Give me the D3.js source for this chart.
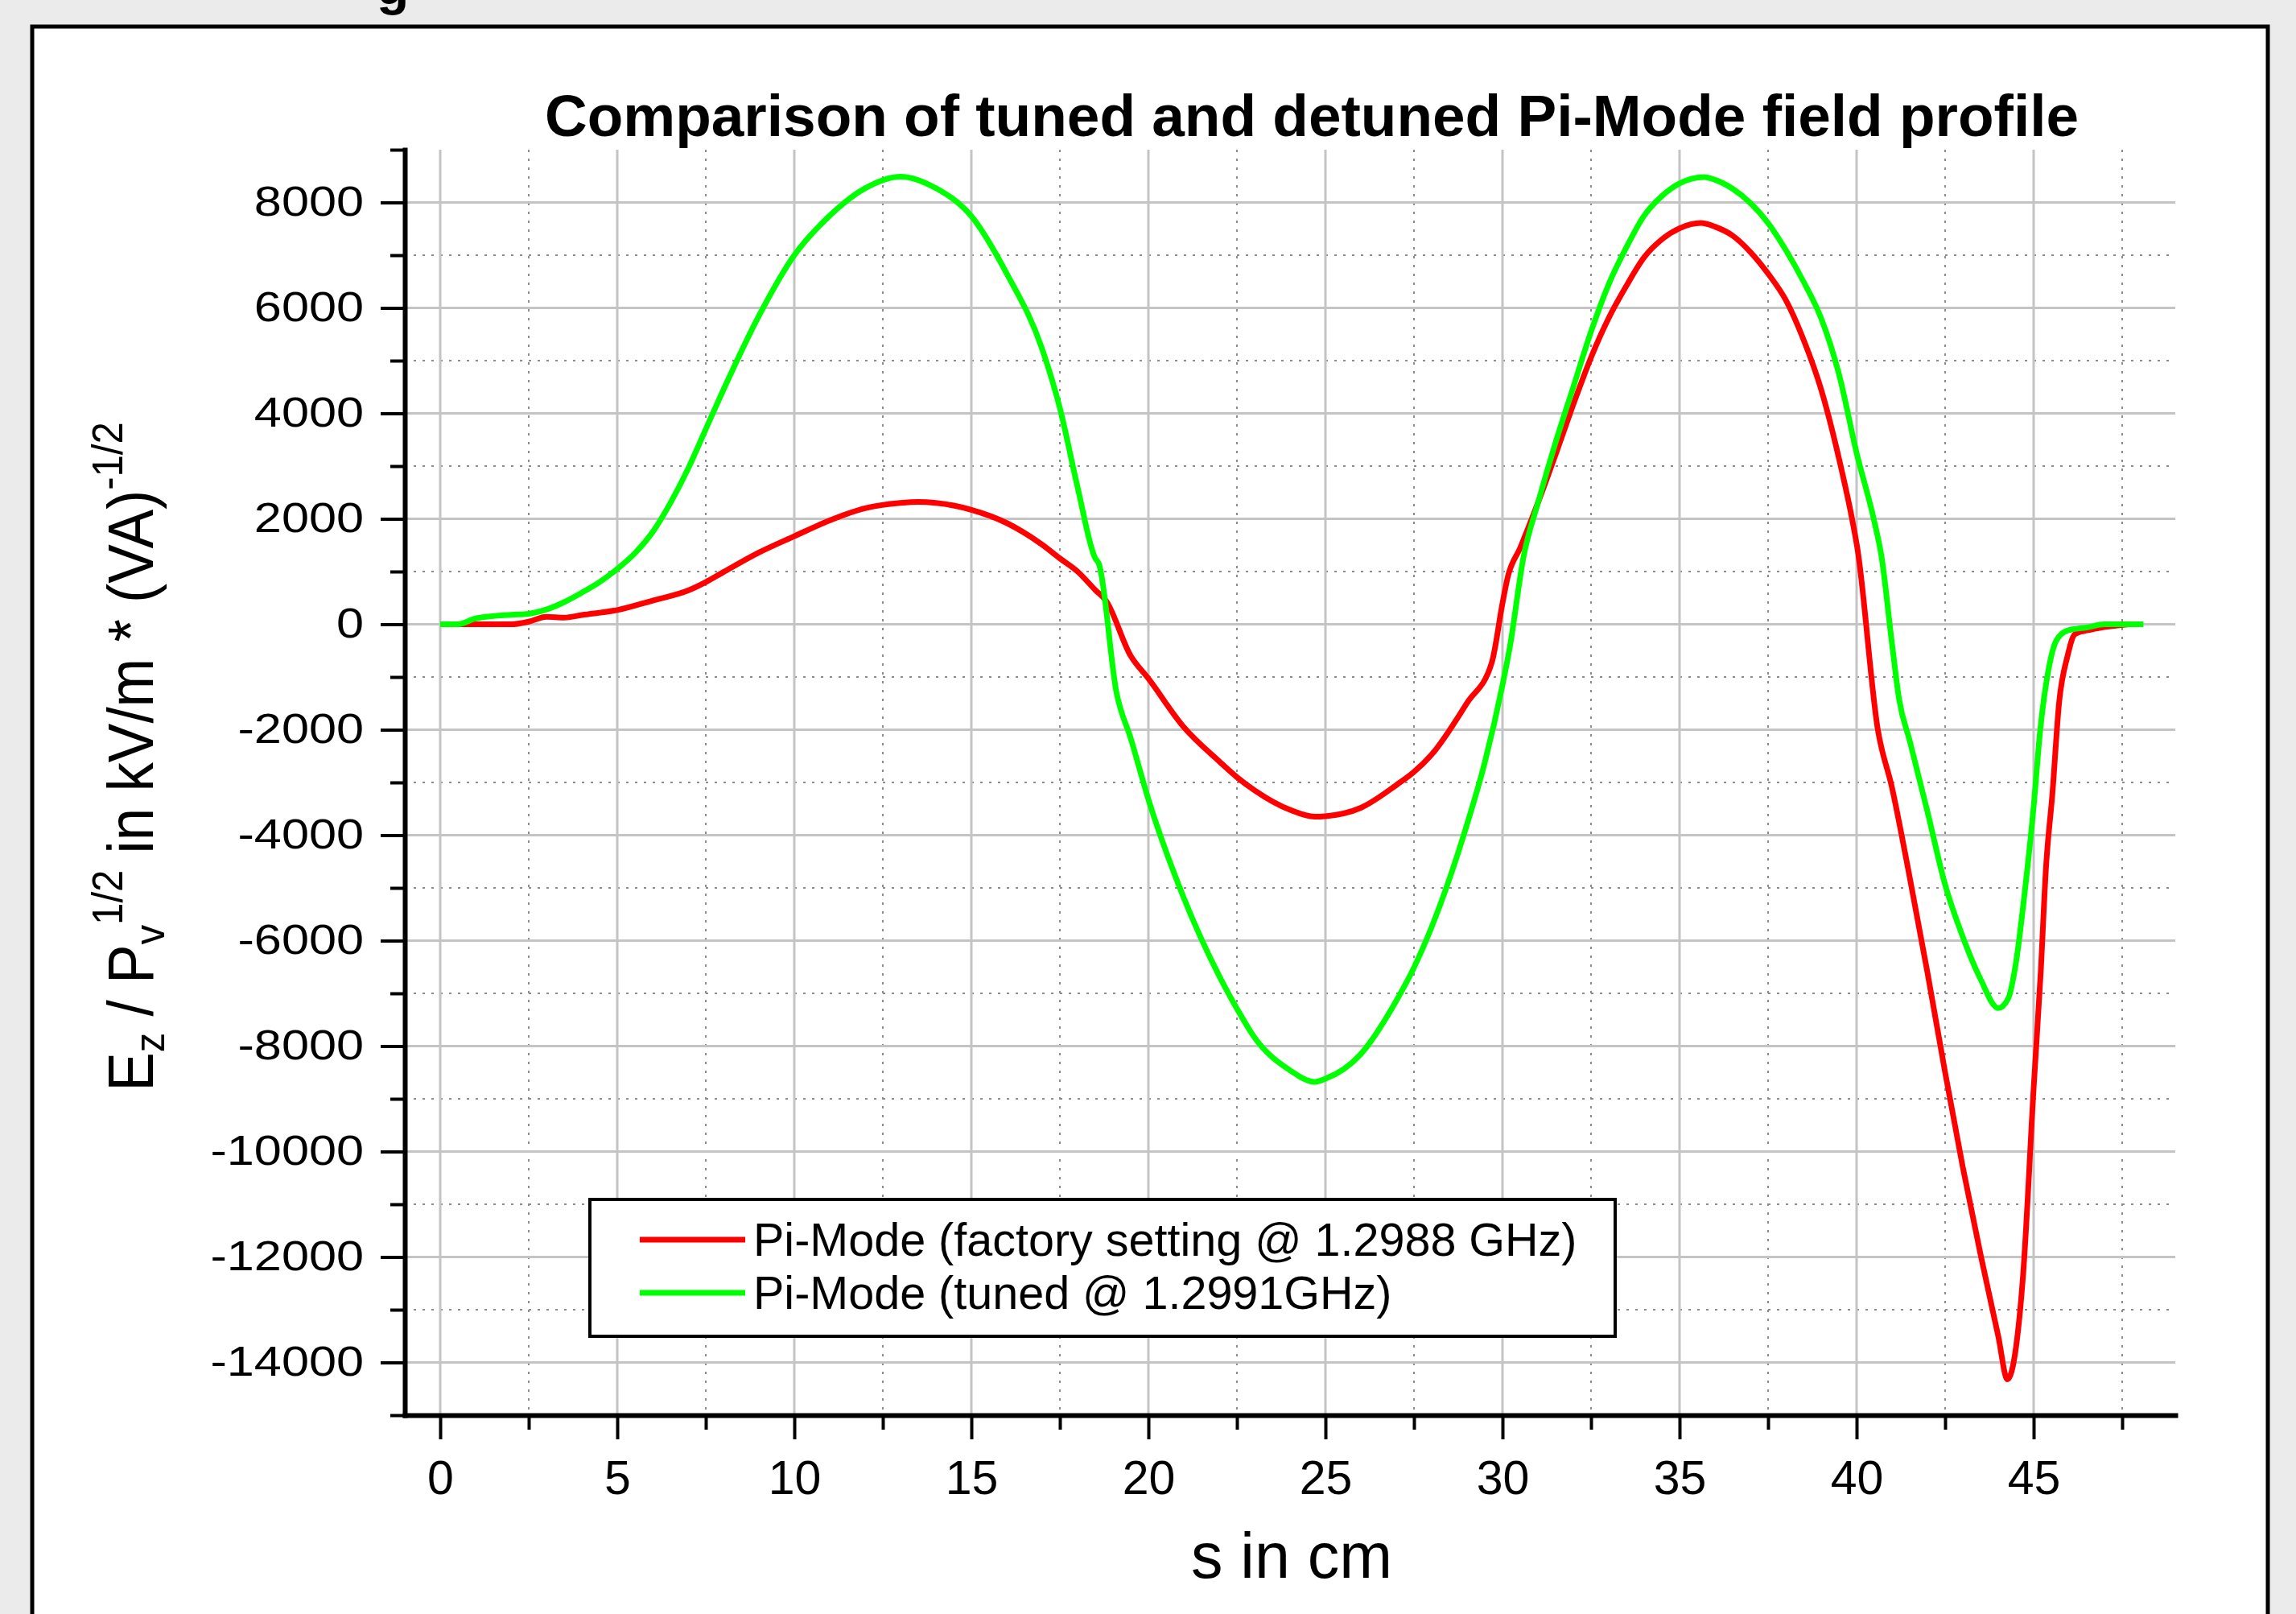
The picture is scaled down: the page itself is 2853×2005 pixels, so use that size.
<!DOCTYPE html>
<html>
<head>
<meta charset="utf-8">
<script src="https://cdn.jsdelivr.net/npm/d3@7"></script>
<style>
  body { margin: 0; background: #ebebeb; }
  svg { display: block; }
</style>
</head>
<body>
<svg id="chart"></svg>
<script>
// Chart size
const width = 2853;
const height = 2005;

// Plot area (pixels)
const plot = { left: 503, right: 2703, top: 186, bottom: 1758 };

// Tick values
const xMajor = [0, 5, 10, 15, 20, 25, 30, 35, 40, 45];
const xMinor = [2.5, 7.5, 12.5, 17.5, 22.5, 27.5, 32.5, 37.5, 42.5, 47.5];
const yMajor = [-14000, -12000, -10000, -8000, -6000, -4000, -2000, 0, 2000, 4000, 6000, 8000];
const yMinor = [-15000, -13000, -11000, -9000, -7000, -5000, -3000, -1000, 1000, 3000, 5000, 7000, 9000];

// Pi-Mode (factory setting @ 1.2988 GHz)
const factoryS = [0, 1, 2, 2.5, 3, 3.5, 4, 5, 6, 7, 7.5, 8, 9, 10, 11, 12, 13, 13.5, 14, 15, 16, 17, 17.5, 18, 18.5, 18.8,
  19.5, 20, 21, 22, 22.5, 23, 24, 24.7, 25, 26, 27, 27.5, 28, 29, 29.7, 30, 30.15, 30.5, 31, 31.5, 32, 32.5, 33, 33.5,
  34, 34.5, 35, 35.6, 36, 36.5, 37, 37.5, 38, 38.5, 39, 39.5, 39.9, 40.02, 40.6, 41, 41.5, 42, 42.5, 43, 43.5, 44,
  44.26, 44.5, 44.7, 45, 45.2, 45.35, 45.53, 45.72, 45.95, 46.17, 46.63, 47.7];
const factoryE = [0, 0, 0, 50, 140, 125, 175, 270, 450, 640, 800, 990, 1360, 1670, 1970, 2200, 2300, 2320, 2300, 2170, 1920, 1510, 1250, 1000, 650, 450,
  -600, -1030, -1950, -2600, -2900, -3150, -3520, -3650, -3640, -3480, -3050, -2800, -2470, -1490, -720, 400, 900, 1450, 2300, 3220, 4170, 5060, 5810, 6420,
  6960, 7300, 7510, 7610, 7540, 7370, 7060, 6650, 6150, 5400, 4450, 3150, 1900, 1450, -2000, -3100, -4800, -6600, -8500, -10300, -11950, -13500,
  -14320, -13720, -12360, -8800, -6600, -4600, -3210, -1480, -620, -185, -100, 0];

// Pi-Mode (tuned @ 1.2991GHz)
const tunedS = [0, 0.5, 1, 2, 2.5, 3, 3.5, 4, 4.5, 5, 5.5, 6, 6.5, 7, 7.5, 8, 9, 10, 11, 12, 13, 14, 15, 16, 17, 17.5, 18, 18.5, 18.6,
  19.1, 19.5, 20, 21, 22, 22.5, 23, 24, 24.7, 25, 26, 27, 27.5, 28, 29, 29.5, 30, 30.2, 30.6, 31, 31.5, 32, 32.5, 33, 33.5, 34,
  34.5, 35, 35.7, 36, 36.5, 37, 37.5, 38, 38.5, 39, 39.5, 40, 40.5, 40.7, 41, 41.2, 41.5, 42, 42.5, 43, 43.5, 44, 44.28, 44.5, 44.73,
  45, 45.19, 45.42, 45.64, 45.95, 46.5, 47, 48.1];
const tunedE = [0, 0, 110, 180, 200, 280, 420, 600, 800, 1050, 1350, 1750, 2300, 2950, 3700, 4450, 5850, 7000, 7750, 8270, 8490, 8270, 7740, 6650, 5220, 4100, 2600, 1250, 1150,
  -1300, -2160, -3320, -5190, -6670, -7290, -7840, -8460, -8680, -8620, -8150, -7140, -6510, -5740, -3790, -2620, -1150, -460, 1300, 2300, 3450, 4500, 5550, 6450, 7150, 7750,
  8120, 8360, 8480, 8430, 8260, 7990, 7610, 7100, 6500, 5800, 4750, 3250, 1950, 1300, -370, -1420, -2210, -3550, -4940, -5930, -6730, -7280, -7100, -6420, -5190,
  -3460, -1980, -860, -310, -120, -60, 0, 0];

const seriesNames = ["Pi-Mode (factory setting @ 1.2988 GHz)", "Pi-Mode (tuned @ 1.2991GHz)"];
const seriesColors = ["#ff0000", "#00ff00"];

const titleText = "Comparison of tuned and detuned Pi-Mode field profile";
const font = "'Liberation Sans', Arial, sans-serif";

const svg = d3.select("#chart")
  .attr("width", width)
  .attr("height", height)
  .style("font-family", font);

// page background and white frame
svg.append("rect").attr("width", width).attr("height", height).attr("fill", "#ebebeb");
svg.append("rect")
  .attr("x", 40).attr("y", 33)
  .attr("width", 2778).attr("height", 2100)
  .attr("fill", "#ffffff")
  .attr("stroke", "#000000")
  .attr("stroke-width", 5);

// heading fragment cut off at the top of the page
svg.append("text")
  .attr("x", 468).attr("y", 5)
  .style("font-size", "66px").style("font-weight", "bold")
  .text("g");

// scales
const xScale = d3.scaleLinear().domain([-1, 49]).range([plot.left, plot.right]);
const yScale = d3.scaleLinear().domain([-15000, 9000]).range([plot.bottom, plot.top]);

// grid
const grid = svg.append("g");
grid.selectAll(".vmin").data(xMinor).join("line")
  .attr("x1", d => xScale(d)).attr("x2", d => xScale(d))
  .attr("y1", plot.top).attr("y2", plot.bottom)
  .attr("stroke", "#8c8c8c").attr("stroke-width", 2).attr("stroke-dasharray", "3,8");
grid.selectAll(".hmin").data(yMinor.slice(1, -1)).join("line")
  .attr("x1", plot.left).attr("x2", plot.right)
  .attr("y1", d => yScale(d)).attr("y2", d => yScale(d))
  .attr("stroke", "#8c8c8c").attr("stroke-width", 2).attr("stroke-dasharray", "3,8");
grid.selectAll(".vmaj").data(xMajor).join("line")
  .attr("x1", d => xScale(d)).attr("x2", d => xScale(d))
  .attr("y1", plot.top).attr("y2", plot.bottom)
  .attr("stroke", "#c4c4c4").attr("stroke-width", 3);
grid.selectAll(".hmaj").data(yMajor).join("line")
  .attr("x1", plot.left).attr("x2", plot.right)
  .attr("y1", d => yScale(d)).attr("y2", d => yScale(d))
  .attr("stroke", "#c4c4c4").attr("stroke-width", 3);

// curves
const line = d3.line()
  .x(d => xScale(d[0]))
  .y(d => yScale(d[1]))
  .curve(d3.curveMonotoneX);

const factory = factoryS.map((s, i) => [s, factoryE[i]]);
const tuned = tunedS.map((s, i) => [s, tunedE[i]]);

svg.append("path").datum(factory)
  .attr("d", line).attr("fill", "none")
  .attr("stroke", seriesColors[0]).attr("stroke-width", 7).attr("stroke-linejoin", "round");
svg.append("path").datum(tuned)
  .attr("d", line).attr("fill", "none")
  .attr("stroke", seriesColors[1]).attr("stroke-width", 7).attr("stroke-linejoin", "round");

// X AXIS
const xAxis = svg.append("g")
  .attr("transform", `translate(0, ${plot.bottom})`)
  .call(d3.axisBottom(xScale).tickValues(xMajor).tickSize(30).tickSizeOuter(0).tickPadding(26));
svg.append("g")
  .attr("transform", `translate(0, ${plot.bottom})`)
  .call(d3.axisBottom(xScale).tickValues(xMinor).tickSize(18).tickFormat(""))
  .call(g => g.select(".domain").remove());

// Y AXIS (labels are drawn wide, as in the original)
const yStretch = 1.2;
const yAxis = svg.append("g")
  .attr("transform", `translate(${plot.left}, 0)`)
  .call(d3.axisLeft(yScale).tickValues(yMajor).tickSize(30).tickSizeOuter(0).tickPadding(21)
    .tickFormat(d => String(d)));
svg.append("g")
  .attr("transform", `translate(${plot.left}, 0)`)
  .call(d3.axisLeft(yScale).tickValues(yMinor).tickSize(18).tickFormat(""))
  .call(g => g.select(".domain").remove());

svg.selectAll(".tick line").attr("stroke", "#000").attr("stroke-width", 4);
svg.selectAll(".domain").attr("stroke", "#000").attr("stroke-width", 6).attr("stroke-linecap", "square");
xAxis.selectAll("text").style("font-size", "59px").style("font-family", font).attr("fill", "#000");
yAxis.selectAll("text")
  .style("font-size", "51px").style("font-family", font).attr("fill", "#000")
  .attr("x", -51 / yStretch)
  .attr("transform", `scale(${yStretch}, 1)`);

// title
svg.append("text")
  .attr("x", 1630).attr("y", 169)
  .attr("text-anchor", "middle")
  .style("font-size", "73px").style("font-weight", "bold")
  .text(titleText);

// x axis title
svg.append("text")
  .attr("x", 1605).attr("y", 1960)
  .attr("text-anchor", "middle")
  .style("font-size", "79px")
  .text("s in cm");

// y axis title
const yTitle = svg.append("text")
  .attr("transform", "translate(190, 940) rotate(-90) scale(0.91, 1)")
  .attr("text-anchor", "middle")
  .style("font-size", "80px");
yTitle.append("tspan").text("E");
yTitle.append("tspan").attr("dy", 14).style("font-size", "54px").text("z");
yTitle.append("tspan").attr("dy", -14).text(" / P");
yTitle.append("tspan").attr("dy", 14).style("font-size", "54px").text("v");
yTitle.append("tspan").attr("dy", -52).style("font-size", "54px").text("1/2");
yTitle.append("tspan").attr("dy", 38).text(" in kV/m * (VA)");
yTitle.append("tspan").attr("dy", -38).style("font-size", "54px").text("-1/2");

// legend
const legend = svg.append("g");
legend.append("rect")
  .attr("x", 733).attr("y", 1490)
  .attr("width", 1274).attr("height", 170)
  .attr("fill", "#fff").attr("stroke", "#000").attr("stroke-width", 4);
const legendRows = legend.selectAll(".row").data(seriesNames).join("g")
  .attr("transform", (d, i) => `translate(0, ${1540 + i * 66})`);
legendRows.append("line")
  .attr("x1", 795).attr("x2", 926)
  .attr("stroke", (d, i) => seriesColors[i]).attr("stroke-width", 7);
legendRows.append("text")
  .attr("x", 936).attr("y", 20)
  .style("font-size", "57.5px")
  .text(d => d);
</script>
</body>
</html>
